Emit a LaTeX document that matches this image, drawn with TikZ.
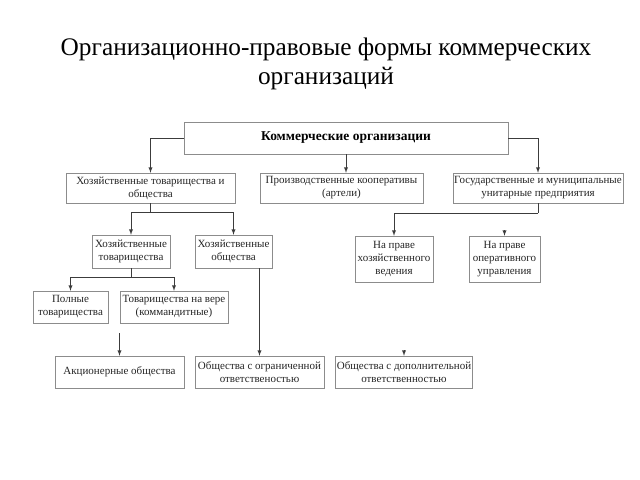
\documentclass[tikz,border=0pt]{standalone}
\usepackage{fontspec}
\setmainfont{Liberation Serif}
\usetikzlibrary{arrows}
\tikzset{>=latex}
\usepackage{xcolor}
\definecolor{framegray}{HTML}{8C8C8C}
\definecolor{linkgray}{HTML}{3C3C3C}
\tikzstyle{box}=[draw=framegray,fill=white,align=center,inner sep=1pt,text=black!85,font=\fontsize{9.4}{11}\selectfont]
\tikzstyle{head box}=[box,font=\fontsize{11.5}{13}\selectfont\bfseries,text=black]
\tikzstyle{link}=[draw=linkgray,line width=0.6pt]

\begin{document}
\begin{tikzpicture}[x=0.03cm,y=-0.03cm]
  \useasboundingbox (0,0) rectangle (640,480);
  \node[align=center,font=\fontsize{21.6}{25}\selectfont] (title) at (326,64)
       {Организационно-правовые формы коммерческих\\организаций};
  % first level
  \node[head box,minimum width=9.72cm,minimum height=0.96cm] (com) at (346,138) {Коммерческие организации};
  \node[box,minimum width=5.07cm,minimum height=0.9cm] (hto) at (150.5,188) {Хозяйственные товарищества и\\общества};
  \node[box,minimum width=4.89cm,minimum height=0.9cm] (pk) at (341.5,188) {Производственные кооперативы\\(артели)};
  \node[box,minimum width=5.1cm,minimum height=0.9cm] (gup) at (538,188) {Государственные и муниципальные\\унитарные предприятия};
  % second level
  \node[box,minimum width=2.34cm,minimum height=0.99cm] (ht) at (131,251.5) {Хозяйственные\\товарищества};
  \node[box,minimum width=2.31cm,minimum height=0.99cm] (ho) at (233.5,251.5) {Хозяйственные\\общества};
  \node[box,minimum width=2.34cm,minimum height=1.38cm] (hv) at (394,259) {На праве\\хозяйственного\\ведения};
  \node[box,minimum width=2.13cm,minimum height=1.38cm] (ou) at (504.5,259) {На праве\\оперативного\\управления};
  \node[box,minimum width=2.25cm,minimum height=0.96cm] (pt) at (70.5,307) {Полные\\товарищества};
  \node[box,minimum width=3.24cm,minimum height=0.96cm] (tv) at (174,307) {Товарищества на вере\\(коммандитные)};
  % societies
  \node[box,minimum width=3.87cm,minimum height=0.96cm] (ao) at (119.5,372) {Акционерные общества};
  \node[box,minimum width=3.87cm,minimum height=0.96cm] (ooo) at (259.5,372) {Общества с ограниченной\\ответственостью};
  \node[box,minimum width=4.08cm,minimum height=0.96cm] (odo) at (404,372) {Общества с дополнительной\\ответственностью};

  \draw[link,->] (com.west) -| (hto.north);
  \draw[link,->] (com.south) -- (com.south |- pk.north);
  \draw[link,->] (com.east) -| (gup.north);
  \path (hto.south) ++(0,9) coordinate (k1);
  \draw[link] (hto.south) -- (k1);
  \draw[link,->] (k1) -| (ht.north);
  \draw[link,->] (k1) -| (ho.north);
  \path (ht.south) ++(0,9) coordinate (k2);
  \draw[link] (ht.south) -- (k2);
  \draw[link,->] (k2) -| (pt.north);
  \draw[link,->] (k2) -| (tv.north);
  \draw[link,->] (ho.south -| ooo.north) -- (ooo.north);
  \path (gup.south) ++(0,10) coordinate (k3);
  \draw[link] (gup.south) -- (k3);
  \draw[link,->] (k3) -| (hv.north);
  \coordinate (f1) at (119.5,333);
  \draw[link,->] (f1) -- (ao.north);
  \coordinate (f2) at (404,350);
  \draw[link,->] (f2) -- (odo.north);
  \coordinate (f3) at (504.5,230);
  \draw[link,->] (f3) -- (ou.north);
\end{tikzpicture}
\end{document}
